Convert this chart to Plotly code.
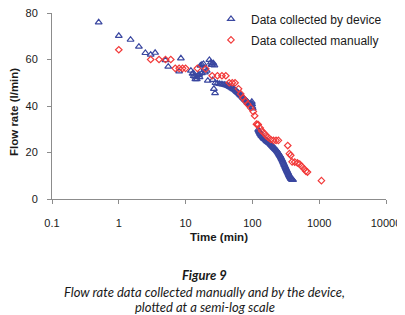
import plotly.graph_objects as go

# ---- data ----
dev_x = [0.5, 1, 1.5, 2, 2.5, 3, 3.5, 5, 5.5, 8, 8.5,
         12.0, 12.7, 13.1, 13.2, 13.9, 14.0, 14.7, 14.7, 15.5, 16.0, 16.2, 16.7, 17.5, 17.5,
         18.5, 19.2, 19.5, 20.7, 21.5, 22.7, 23.9, 24.4, 25.0, 25.5, 26.0, 26.5, 27.0, 27.6,
         28, 30, 32, 34, 36, 38, 40, 42, 44, 46, 48, 50, 52, 54, 56, 58, 60, 62, 64, 66, 68,
         70, 72, 74, 76, 78, 80, 82, 84, 86, 88, 90, 92, 94, 96, 98, 99, 100, 101,
         122, 124, 126, 128, 130, 132, 135, 138, 140, 143, 146, 149, 152, 156, 160, 164, 168,
         172, 176, 180, 185, 190, 195, 200, 205, 210, 215, 220, 225, 230, 235, 240, 245, 250,
         255, 260, 265, 270, 275, 280, 285, 290, 295, 300, 305, 310, 315, 320, 325, 330, 335,
         340, 345, 350, 355, 360, 365, 370, 375, 380, 385, 390, 395, 400, 405]
dev_y = [76, 70.2, 68.5, 65.5, 62.8, 62.1, 62.9, 59.7, 56.9, 54.9, 60.5,
         55.2, 53.9, 54.1, 52.9, 52.6, 51.6, 51.5, 52.4, 53.3, 53.5, 52.4, 57.4, 54.1, 57.7,
         58.1, 56.2, 54.5, 55.2, 50.9, 59.8, 58.7, 57.8, 57.7, 51.2, 58.4, 47.4, 57.5, 45.5,
         49.9, 49.7, 49.5, 49.4, 49.3, 49.2, 49.0, 48.8, 48.5, 48.2, 47.9, 47.6, 47.3, 47.0,
         46.6, 46.2, 45.9, 45.5, 45.1, 44.7, 44.4,
         44.0, 43.6, 43.3, 43.0, 42.6, 42.3, 42.0, 41.7, 41.4, 41.1, 40.8, 40.6, 40.4, 41.0,
         41.8, 40.8, 39.6, 39.0,
         29.8, 29.4, 29.0, 28.6, 28.2, 27.9, 27.4, 27.1, 26.9, 26.6, 26.3, 26.0, 25.8, 25.5,
         25.2, 24.9, 24.7, 24.4, 24.2, 24.0, 23.7, 23.3, 23.0, 22.6, 22.3, 22.0, 21.7, 21.4,
         21.1, 20.8, 20.5, 20.1, 19.7, 19.3, 18.9, 18.5, 18.1, 17.6, 17.2, 16.7, 16.2, 15.7,
         15.2, 14.7, 14.3, 13.8, 13.4, 12.9, 12.5, 12.1, 11.7, 11.3, 10.9, 10.5, 10.2, 9.8,
         9.5, 9.2, 8.9, 8.7, 8.5, 8.4, 8.3, 8.2, 8.2]

man_x = [1, 3, 4, 5, 6, 7, 8, 9, 10, 15, 20, 25, 30, 35, 40, 45, 50, 55, 62, 67, 72, 78,
         85, 94, 103, 108, 115, 119, 122, 131, 138, 150, 160, 172, 188, 207, 226, 245,
         338, 358, 375, 393, 430, 472, 511, 548, 594, 630, 667, 1080]
man_y = [64.2, 60, 60, 60, 60, 56.2, 56.2, 56.2, 56.2, 56.2, 56, 53, 53, 53, 53, 50, 50, 50,
         47.4, 45.2, 43.6, 42.2, 40.8, 39.2, 37.6, 35.8, 32.2, 32.0, 32.0, 30.5, 29.3, 28.3,
         27.3, 26.5, 25.6, 25.2, 25.2, 25.2, 23, 19.5, 18.8, 16, 15.9, 15.5, 15, 14, 13, 12,
         11.6, 7.9]

x_tickvals = [0.1, 1, 10, 100, 1000, 10000]
x_ticktext = ["0.1", "1", "10", "100", "1000", "10000"]
y_tickvals = [0, 20, 40, 60, 80]

BLUE = "#3a47a0"
RED = "#f23a3a"
AX = "#8c8c8c"
TXT = "#1a1a1a"
CH = "Liberation Sans, Arial, sans-serif"
CAP = "Lato, Noto Sans, sans-serif"

# the page body adds an 8 px offset; margins below are in figure pixels
W, HGT = 405, 315
ML, MR, MT, MB = 44, 27, 5, 124
PH = HGT - MT - MB  # plot height
PW = W - ML - MR    # plot width


def py(fig_px_from_top):
    return (HGT - MB - fig_px_from_top) / PH


def px(fig_px_from_left):
    return (fig_px_from_left - ML) / PW


fig = go.Figure()
fig.add_trace(go.Scatter(
    x=dev_x, y=dev_y, mode="markers", name="Data collected by device",
    legendgroup="a",
    marker=dict(symbol="triangle-up-open", size=6, color=BLUE, line=dict(width=1.2, color=BLUE))))
fig.add_trace(go.Scatter(
    x=man_x, y=man_y, mode="markers", name="Data collected manually",
    legendgroup="b",
    marker=dict(symbol="diamond-open", size=5, color=RED, line=dict(width=1.2, color=RED))))

fig.update_layout(
    template="none",
    width=W, height=HGT,
    margin=dict(l=ML, r=MR, t=MT, b=MB, autoexpand=False),
    paper_bgcolor="white", plot_bgcolor="white",
    font=dict(family=CH, size=11, color=TXT),
    showlegend=True,
    legend=dict(x=0.476, y=1.046, xanchor="left", yanchor="top",
                bgcolor="rgba(0,0,0,0)", tracegroupgap=2,
                font=dict(family=CH, size=12, color=TXT),
                itemwidth=30),
    xaxis=dict(type="log", range=[-1, 4], tickvals=x_tickvals, ticktext=x_ticktext,
               automargin=False, ticklabeloverflow="allow",
               showgrid=False, zeroline=False, showline=True, linecolor=AX, linewidth=1,
               ticks="outside", ticklen=4, tickcolor=AX, ticklabelstandoff=10,
               tickfont=dict(family=CH, size=11, color=TXT),
               title=dict(text="<b>Time (min)</b>", standoff=4,
                          font=dict(family=CH, size=11.5, color=TXT))),
    yaxis=dict(range=[0, 80], tickvals=y_tickvals, showgrid=False, zeroline=False,
               automargin=False, ticklabeloverflow="allow",
               showline=True, linecolor=AX, linewidth=1,
               ticks="outside", ticklen=4, tickcolor=AX, ticklabelstandoff=7,
               tickfont=dict(family=CH, size=11, color=TXT)),
)

# y-axis title (sits slightly below the axis centre in the reference)
fig.add_annotation(text="<b>Flow rate (l/min)</b>", xref="paper", yref="paper",
                   x=px(5.5), y=py(104.5), xanchor="center", yanchor="middle",
                   textangle=-90, showarrow=False,
                   font=dict(family=CH, size=11.5, color=TXT))

CX = 0.458
fig.add_annotation(text="<b><i>Figure 9</i></b>", xref="paper", yref="paper",
                   x=CX, y=py(267), xanchor="center", yanchor="middle", showarrow=False,
                   font=dict(family=CAP, size=13, color=TXT))
fig.add_annotation(text="<i>Flow rate data collected manually and by the device,</i>",
                   xref="paper", yref="paper", x=CX, y=py(284), xanchor="center",
                   yanchor="middle", showarrow=False,
                   font=dict(family=CAP, size=13, color=TXT))
fig.add_annotation(text="<i>plotted at a semi-log scale</i>",
                   xref="paper", yref="paper", x=CX, y=py(299), xanchor="center",
                   yanchor="middle", showarrow=False,
                   font=dict(family=CAP, size=13, color=TXT))

fig.write_html("out.html")
